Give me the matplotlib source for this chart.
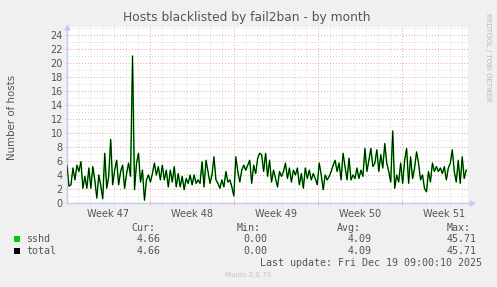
import numpy as np
import matplotlib.pyplot as plt
import matplotlib.transforms as mtransforms

# munin "hosts blacklisted by fail2ban" - by month
sshd = [5.4, 2.4, 2.6, 5.0, 3.3, 5.4, 4.5, 5.9, 2.1, 3.8,
        2.1, 5.0, 2.1, 5.2, 3.3, 0.7, 4.0, 2.5, 0.6, 7.1,
        2.1, 3.8, 9.1, 2.6, 4.7, 6.1, 2.6, 4.5, 5.4, 2.1,
        4.2, 5.7, 3.8, 21.0, 1.9, 5.7, 7.1, 3.0, 4.7, 0.4,
        3.3, 4.0, 3.0, 4.2, 5.7, 4.0, 5.2, 3.3, 5.4, 3.3,
        4.7, 2.3, 4.7, 3.0, 5.2, 2.3, 4.2, 2.3, 3.8, 1.9,
        3.5, 2.8, 4.0, 2.6, 4.0, 2.8, 3.3, 2.8, 5.9, 2.3,
        6.1, 4.5, 2.8, 4.0, 6.6, 3.3, 2.8, 2.1, 3.3, 2.3,
        4.5, 3.0, 3.3, 2.3, 1.0, 6.6, 4.5, 3.0, 4.7, 5.4,
        4.7, 5.4, 6.1,
        2.8, 5.4, 4.2, 6.4, 7.1, 6.9, 4.5, 7.1, 3.8, 6.1,
        3.0, 4.7, 3.5, 2.3, 4.5, 3.8, 4.5, 5.7, 3.5, 5.0,
        3.0, 4.7, 4.0, 5.0, 2.6, 4.2, 2.1, 5.0, 3.5, 4.7,
        3.3, 4.2, 3.5, 2.6, 5.7, 4.0, 1.9, 4.0, 3.3, 3.8,
        4.5, 5.4, 6.1, 4.5, 5.7, 3.3, 7.1, 5.2, 3.3, 6.4,
        3.3, 4.0, 3.5, 5.0, 3.5, 4.7, 3.8, 7.8, 4.5, 6.1,
        7.8, 5.2, 5.7, 7.6, 4.5, 6.9, 5.0, 8.5, 5.7, 4.5,
        3.0, 10.3, 2.1, 4.0, 3.0, 5.7, 2.8, 6.1, 7.8, 2.8,
        6.6, 3.5, 5.0, 7.3, 5.7, 3.3, 4.0, 2.1, 1.6, 4.5,
        3.0, 5.7, 4.5, 5.2, 4.5, 5.0, 4.2, 5.2, 3.3, 5.0,
        5.7, 7.6, 4.5, 3.0, 6.1, 2.8, 6.6, 3.5, 4.7]
total = list(sshd)

week_labels = ['Week 47', 'Week 48', 'Week 49', 'Week 50', 'Week 51']
series_names = ['sshd', 'total']
series_colors = ['#00CC00', '#000000']
cur = ['4.66', '4.66']
vmin = ['0.00', '0.00']
avg = ['4.09', '4.09']
vmax = ['45.71', '45.71']

W, H = 497, 287
BG = '#F0F0F0'
TXT = '#555555'
AXC = '#C8C8F0'

# time axis in days, left edge = 0
span_days = 33.45
first_monday = 6.94
t = np.linspace(0, span_days - 0.15, len(sshd))

fig = plt.figure(figsize=(W / 100, H / 100), dpi=100, facecolor=BG)
def px(x, y):
    return x / W, 1 - y / H

l, b = px(67, 203)
r, tp = px(468, 27)
ax = fig.add_axes([l, b, r - l, tp - b])
ax.set_facecolor('white')
ax.set_xlim(0, span_days)
ax.set_ylim(0, 176 / 7.0)

# grid
for d in np.arange(first_monday - 6, span_days, 1.0):
    major = abs((d - first_monday) / 7 - round((d - first_monday) / 7)) < 1e-6
    ax.axvline(d, color='#E6A0A0' if major else '#D8D8D8', lw=0.7,
               ls=(0, (1, 2)), zorder=0)
for v in range(1, 26):
    ax.axhline(v, color='#E6A0A0' if v % 2 == 0 else '#D8D8D8', lw=0.7,
               ls=(0, (1, 2)), zorder=0)

ax.plot(t, sshd, color=series_colors[0], lw=1.1, zorder=2)
ax.plot(t, total, color=series_colors[1], lw=0.6, zorder=3)

for s in ['top', 'right']:
    ax.spines[s].set_visible(False)
for s in ['left', 'bottom']:
    ax.spines[s].set_color(AXC)
    ax.spines[s].set_linewidth(1.0)

ax.set_yticks(range(0, 25, 2))
ax.set_yticklabels([str(v) for v in range(0, 25, 2)])
ax.tick_params(axis='y', length=2, color='#E6A0A0', labelcolor=TXT,
               labelsize=7, pad=2, direction='inout')
ax.set_xticks(np.arange(first_monday, span_days, 7.0))
ax.set_xticklabels([])
ax.set_xticks(np.arange(first_monday - 6, span_days, 1.0), minor=True)
ax.tick_params(axis='x', which='major', length=3, color='#E6A0A0', direction='inout')
ax.tick_params(axis='x', which='minor', length=2, color='#BBBBBB', direction='inout')

trans = mtransforms.blended_transform_factory(ax.transData, ax.transAxes)
for k, lab in enumerate(week_labels):
    ax.text(first_monday - 3.5 + 7 * k, -0.035, lab, transform=trans,
            ha='center', va='top', fontsize=7, color=TXT)

# axis arrows
ax.plot([0], [1.0], marker='^', ms=3.5, color=AXC, transform=ax.transAxes, clip_on=False)
ax.plot([1.01], [0], marker='>', ms=3.5, color=AXC, transform=ax.transAxes, clip_on=False)

fig.text(*px(247, 18), 'Hosts blacklisted by fail2ban - by month', ha='center',
         va='center', fontsize=8.8, color=TXT)
fig.text(*px(12, 117), 'Number of hosts', rotation=90, ha='center',
         va='center', fontsize=7.4, color=TXT)
fig.text(*px(488, 57), 'RRDTOOL / TOBI OETIKER', rotation=270, ha='center',
         va='center', fontsize=5, color='#B8B8B8')

mono = dict(family='DejaVu Sans Mono', fontsize=7.2, color=TXT, va='center')
cols = [(155, 'Cur:', cur), (261, 'Min:', vmin), (361, 'Avg:', avg), (471, 'Max:', vmax)]
for xh, head, vals in cols:
    fig.text(*px(xh, 228), head, ha='right', **mono)
for i, name in enumerate(series_names):
    y = 239 + 12 * i
    fig.patches.append(plt.Rectangle(px(14, y + 3), 6 / W, 6 / H,
                                     transform=fig.transFigure, facecolor=series_colors[i],
                                     edgecolor='none'))
    fig.text(*px(26, y), name, ha='left', **mono)
    for (xh, head, vals), xv in zip(cols, [161, 267, 372, 477]):
        fig.text(*px(xv, y), vals[i], ha='right', **mono)
fig.text(*px(482, 263), 'Last update: Fri Dec 19 09:00:10 2025', ha='right', **mono)
fig.text(*px(248, 275), 'Munin 2.0.73', ha='center', va='center', fontsize=5,
         color='#C0C0C0')

fig.savefig('out.png', dpi=100, facecolor=BG)
